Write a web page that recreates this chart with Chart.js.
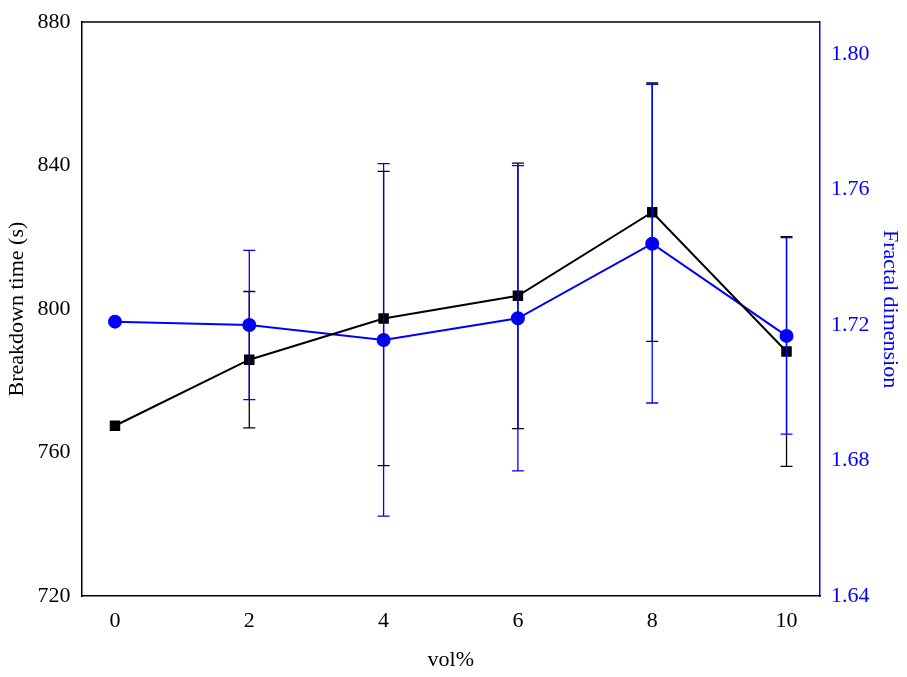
<!DOCTYPE html>
<html><head><meta charset="utf-8">
<script src="https://cdn.jsdelivr.net/npm/chart.js@4"></script>
<style>html,body{margin:0;background:#fff}</style>
</head><body><canvas id="c" width="907" height="677"></canvas>
<script>
const xVals=[0,2,4,6,8,10];
const breakdown=[767.5,785.9,797.4,803.7,827,788.2];
const breakdownErr=[0,19,41,37,36,32];
const fractal=[1.721,1.720,1.7156,1.722,1.744,1.7168];
const fractalErr=[0,0.022,0.052,0.045,0.047,0.029];
const leftTicks=[720,760,800,840,880];
const rightTicks=[1.64,1.68,1.72,1.76,1.80];
const xTicks=[0,2,4,6,8,10];

const errPlugin={id:'err',afterDatasetsDraw(ch){
  const ctx=ch.ctx,x=ch.scales.x;
  const sets=[[breakdown,breakdownErr,ch.scales.y,'#000'],[fractal,fractalErr,ch.scales.y1,'#0000ff']];
  ctx.save();ctx.lineWidth=1.3;
  sets.forEach(([v,e,s,col])=>{ctx.strokeStyle=col;
    v.forEach((val,i)=>{if(!e[i])return;const px=x.getPixelForValue(xVals[i]);
      const t=s.getPixelForValue(val+e[i]),b=s.getPixelForValue(val-e[i]);
      ctx.beginPath();ctx.moveTo(px,t);ctx.lineTo(px,b);
      ctx.moveTo(px-6,t);ctx.lineTo(px+6,t);ctx.moveTo(px-6,b);ctx.lineTo(px+6,b);ctx.stroke();});});
  const a=ch.chartArea;ctx.strokeStyle='#000';ctx.lineWidth=1.5;ctx.beginPath();
  ctx.moveTo(a.left,a.top);ctx.lineTo(a.right,a.top);ctx.stroke();
  ctx.restore();}};

const font={family:'Liberation Serif',size:22};
function minorTicks(arr,step){const out=[];for(let v=arr[0];v<=arr[arr.length-1]+1e-9;v+=step)out.push({value:+v.toFixed(4)});return out;}
new Chart(document.getElementById('c'),{
  type:'line',
  data:{datasets:[
    {data:xVals.map((x,i)=>({x,y:breakdown[i]})),borderColor:'#000',backgroundColor:'#000',pointStyle:'rect',pointRadius:6,borderWidth:2,yAxisID:'y'},
    {data:xVals.map((x,i)=>({x,y:fractal[i]})),borderColor:'#0000ff',backgroundColor:'#0000ff',pointStyle:'circle',pointRadius:6,borderWidth:2,yAxisID:'y1'}
  ]},
  options:{responsive:false,animation:false,devicePixelRatio:1,
    layout:{padding:{top:22,right:0,left:0,bottom:0}},
    plugins:{legend:{display:false},tooltip:{enabled:false}},
    scales:{
      x:{type:'linear',min:-0.5,max:10.5,afterBuildTicks:s=>{s.ticks=xTicks.map(v=>({value:v}))},
        grid:{display:false,drawTicks:true,tickLength:8,tickColor:'#000'},border:{color:'#000',width:1.5},
        ticks:{color:'#000',font,padding:4},
        title:{display:true,text:'vol%',color:'#000',font,padding:{top:8}}},
      y:{position:'left',min:720,max:880,afterBuildTicks:s=>{s.ticks=minorTicks(leftTicks,20)},
        grid:{display:false,tickLength:8,tickColor:'#000'},border:{color:'#000',width:1.5},
        ticks:{color:'#000',font,callback:v=>leftTicks.includes(v)?v:''},
        title:{display:true,text:'Breakdown time (s)',color:'#000',font}},
      y1:{position:'right',min:1.64,max:1.8094,afterBuildTicks:s=>{s.ticks=minorTicks(rightTicks,0.02)},
        grid:{display:false,tickLength:8,tickColor:'#0000ff'},border:{color:'#0000ff',width:1.5},
        ticks:{color:'#0000ff',font,callback:v=>rightTicks.some(r=>Math.abs(r-v)<1e-6)?v.toFixed(2):''},
        title:{display:true,text:'Fractal dimension',color:'#0000ff',font}}
    }},
  plugins:[errPlugin]
});
</script></body></html>
